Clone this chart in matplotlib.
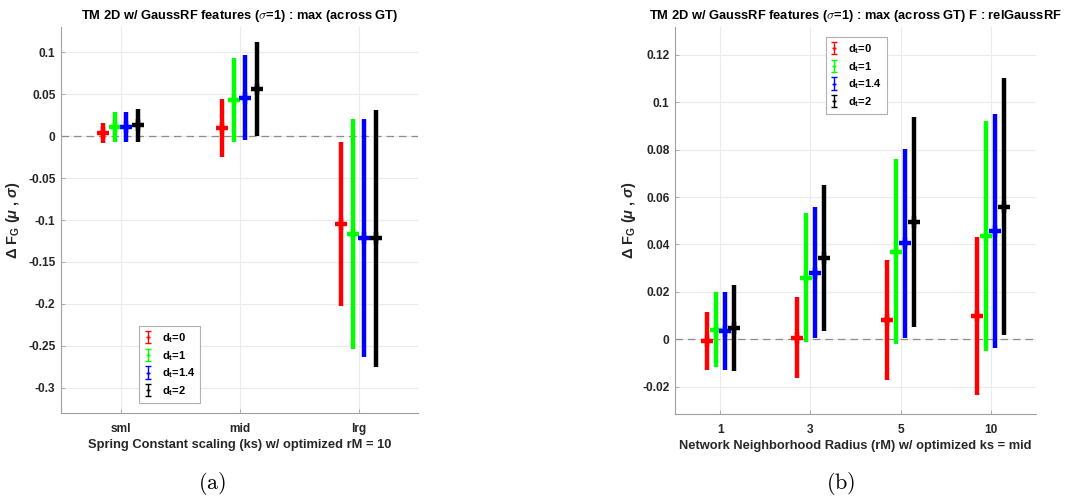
import matplotlib
matplotlib.use("Agg")
import matplotlib.pyplot as plt
from matplotlib.container import ErrorbarContainer
from matplotlib.legend_handler import HandlerErrorbar
import numpy as np

plt.rcParams['font.family'] = ['Liberation Sans', 'DejaVu Sans']
plt.rcParams['font.weight'] = 'bold'
plt.rcParams['mathtext.fontset'] = 'custom'
plt.rcParams['mathtext.rm'] = 'Liberation Sans:bold'
plt.rcParams['mathtext.bf'] = 'Liberation Sans:bold'
plt.rcParams['mathtext.it'] = 'Liberation Sans:italic'

# ---------------- data ----------------
dt_labels = [r'd$_{\mathbf{t}}$=0', r'd$_{\mathbf{t}}$=1', r'd$_{\mathbf{t}}$=1.4', r'd$_{\mathbf{t}}$=2']
dt_colors = ['#ff0000', '#00ff00', '#0000ff', '#000000']

# panel (a): spring constant scaling
left_cats = ['sml', 'mid', 'lrg']
left_mean_dt0 = [0.004, 0.0096, -0.105]
left_mean_dt1 = [0.011, 0.0432, -0.117]
left_mean_dt14 = [0.011, 0.0456, -0.121]
left_mean_dt2 = [0.013, 0.056, -0.122]
left_std_dt0 = [0.012, 0.035, 0.0978]
left_std_dt1 = [0.018, 0.050, 0.1372]
left_std_dt14 = [0.0182, 0.0508, 0.1418]
left_std_dt2 = [0.0198, 0.0558, 0.1532]

# panel (b): network neighborhood radius
right_cats = ['1', '3', '5', '10']
right_mean_dt0 = [-0.0008, 0.0006, 0.008, 0.0099]
right_mean_dt1 = [0.004, 0.026, 0.037, 0.0434]
right_mean_dt14 = [0.0035, 0.028, 0.0404, 0.0456]
right_mean_dt2 = [0.0046, 0.0344, 0.0493, 0.056]
right_std_dt0 = [0.0121, 0.0172, 0.0253, 0.0333]
right_std_dt1 = [0.0158, 0.0273, 0.039, 0.0485]
right_std_dt14 = [0.0164, 0.0277, 0.0399, 0.0494]
right_std_dt2 = [0.0182, 0.0308, 0.0443, 0.0542]

left_means = [left_mean_dt0, left_mean_dt1, left_mean_dt14, left_mean_dt2]
left_stds = [left_std_dt0, left_std_dt1, left_std_dt14, left_std_dt2]
right_means = [right_mean_dt0, right_mean_dt1, right_mean_dt14, right_mean_dt2]
right_stds = [right_std_dt0, right_std_dt1, right_std_dt14, right_std_dt2]

TXT = '#262626'
fig = plt.figure(figsize=(10.75, 4.98), dpi=100)
axL = fig.add_axes([61/1075, 1-413/498, 357/1075, 386/498])
axR = fig.add_axes([675/1075, 1-414/498, 361/1075, 387/498])

offsets = [-0.15, -0.05, 0.05, 0.15]


def draw(ax, cats, means, stds, ylim, yticks, title, xlabel, legend_anchor, legend_loc):
    x = np.arange(1, len(cats) + 1)
    for i in range(4):
        ax.errorbar(x + offsets[i], means[i], yerr=stds[i], fmt='+', color=dt_colors[i],
                    ecolor=dt_colors[i], elinewidth=3.2, capsize=0, markersize=8,
                    markeredgewidth=3.2, zorder=3)
    # legend proxies (drawn outside view)
    handles = []
    for i in range(4):
        h = ax.errorbar([np.nan], [np.nan], yerr=[1.0], fmt='+', color=dt_colors[i],
                        elinewidth=1.0, capsize=2.5, capthick=1.0, markersize=3,
                        markeredgewidth=1.0)
        handles.append(h)
    ax.axhline(0, color='#8c8c8c', lw=0.9, ls=(0, (6, 4)), zorder=2)
    ax.set_xlim(0.5, len(cats) + 0.5)
    ax.set_ylim(*ylim)
    ax.set_xticks(x)
    ax.set_xticklabels(cats)
    ax.set_yticks(yticks)
    ax.set_yticklabels([('%g' % v) for v in yticks])
    ax.grid(True, color='#ebebeb', lw=0.8, zorder=0)
    ax.set_axisbelow(True)
    for s in ['top', 'right']:
        ax.spines[s].set_visible(False)
    for s in ['left', 'bottom']:
        ax.spines[s].set_color('#a0a0a0')
        ax.spines[s].set_linewidth(0.8)
    ax.tick_params(direction='in', length=3, width=0.6, color='#a0a0a0',
                   labelsize=8.6, labelcolor=TXT)
    ax.tick_params(axis='y', pad=4)
    ax.tick_params(axis='x', pad=7)
    for lab in ax.get_xticklabels() + ax.get_yticklabels():
        lab.set_fontweight('bold')
    ax.set_title(title, fontsize=9.3, fontweight='bold', color='black', pad=6,
                 math_fontfamily='cm')
    ax.set_xlabel(xlabel, fontsize=9.3, fontweight='bold', color=TXT, labelpad=3)
    ax.set_ylabel(r'$\Delta$ F$_{\mathbf{G}}$ ($\mu$ , $\sigma$)', fontsize=10.5,
                  fontweight='bold', color=TXT)
    leg = ax.legend(handles, dt_labels, loc=legend_loc, bbox_to_anchor=legend_anchor,
                    borderaxespad=0, fontsize=8, handlelength=0.7, handletextpad=0.9,
                    labelspacing=0.35, fancybox=False, edgecolor='#b0b0b0',
                    framealpha=1, borderpad=0.45,
                    handler_map={ErrorbarContainer: HandlerErrorbar(yerr_size=0.55)})
    leg.get_frame().set_linewidth(0.8)
    for t in leg.get_texts():
        t.set_fontweight('bold')
        t.set_color('black')


draw(axL, left_cats, left_means, left_stds, (-0.33, 0.13),
     [-0.3, -0.25, -0.2, -0.15, -0.1, -0.05, 0, 0.05, 0.1],
     r'TM 2D w/ GaussRF features ($\sigma$=1) : max (across GT)',
     'Spring Constant scaling (ks) w/ optimized rM = 10',
     (0.218, 0.026), 'lower left')
axL.yaxis.set_label_coords(-0.109, 0.5)

draw(axR, right_cats, right_means, right_stds, (-0.0316, 0.1318),
     [-0.02, 0, 0.02, 0.04, 0.06, 0.08, 0.1, 0.12],
     r'TM 2D w/ GaussRF features ($\sigma$=1) : max (across GT) F : relGaussRF',
     'Network Neighborhood Radius (rM) w/ optimized ks = mid',
     (0.417, 0.974), 'upper left')
axR.yaxis.set_label_coords(-0.102, 0.5)

fig.text(212/1075, 1-483/498, r'$(\mathrm{a})$', ha='center', va='center',
         fontsize=16, math_fontfamily='cm', color='black')
fig.text(841/1075, 1-483/498, r'$(\mathrm{b})$', ha='center', va='center',
         fontsize=16, math_fontfamily='cm', color='black')

fig.savefig('out.png', dpi=100)
